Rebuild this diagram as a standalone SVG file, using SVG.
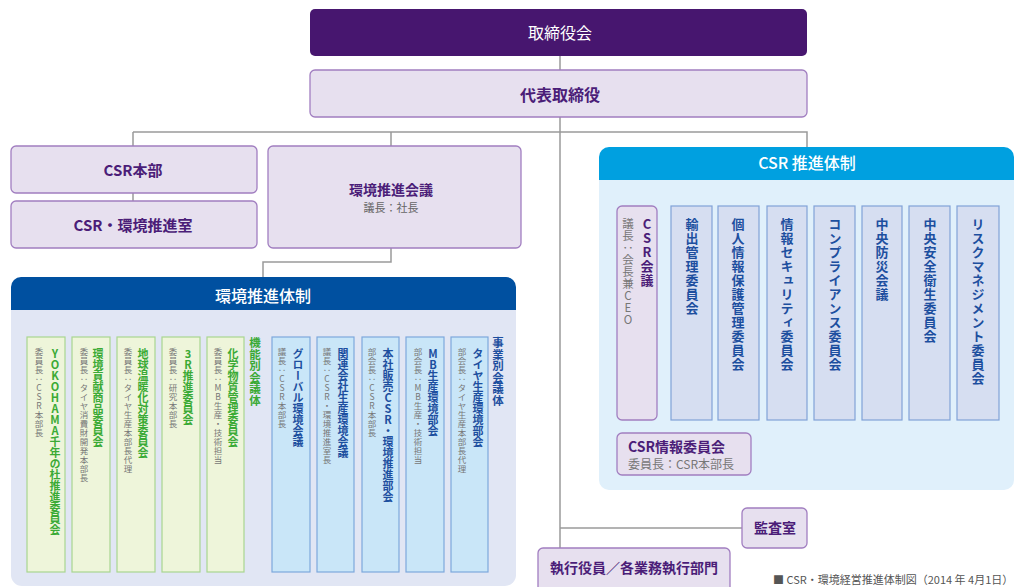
<svg xmlns="http://www.w3.org/2000/svg" width="1015" height="587" viewBox="0 0 1015 587">
<style>
text{font-family:"Noto Sans CJK JP","Noto Sans",sans-serif}
.pbox{fill:#e7e0ef;stroke:#a17ec0;stroke-width:1.3}
.ptxt{fill:#4b1d78;font-weight:bold;text-anchor:middle}
.gray{fill:#666}
.conn{fill:none;stroke:#9a9a9a;stroke-width:1.5}
.v{writing-mode:vertical-rl;text-orientation:upright}
.gbox{fill:#eef5da;stroke:#a9d68f;stroke-width:1.2}
.gt{fill:#3aaa35;font-weight:bold;font-size:11px}
.bbox{fill:#c9e6f8;stroke:#7ea8dc;stroke-width:1.2}
.bt{fill:#1d4f9f;font-weight:bold;font-size:11px}
.st{fill:#777;font-size:8.5px;letter-spacing:0.5px}
.cbox{fill:#d6def1;stroke:#80a2d8;stroke-width:1.2}
.ct{fill:#1d4f9f;font-weight:bold;font-size:13px;letter-spacing:1px}
</style>

<g id="connectors">
  <path class="conn" d="M560 56V70M560 117V548M133 132H807V147M133 132V146M391 132V146M133 193V201M391 248V262H263V277"/>
  <path class="conn" d="M46 327H470M46 327V337M91 327V337M136 327V337M181 327V337M225 327V337M291 327V337M336 327V337M381 327V337M425 327V337M470 327V337"/>
  <path class="conn" d="M637 197H978M637 197V206M692 197V206M738 197V206M787 197V206M835 197V206M882 197V206M930 197V206M978 197V206M637 420V433"/>
  <path class="conn" d="M560 528H742"/>
</g>

<g id="board">
  <rect x="310" y="9" width="497" height="47" rx="5" fill="#47166f"/>
  <text x="560" y="39" font-size="16" fill="#fff" text-anchor="middle">取締役会</text>
</g>
<g id="rep">
  <rect class="pbox" x="310" y="70" width="497" height="47" rx="5"/>
  <text class="ptxt" x="560" y="101" font-size="16">代表取締役</text>
</g>
<g id="csrhq">
  <rect class="pbox" x="11" y="146" width="246" height="47" rx="5"/>
  <text class="ptxt" x="133" y="176" font-size="15">CSR本部</text>
</g>
<g id="csrenv">
  <rect class="pbox" x="11" y="201" width="246" height="47" rx="5"/>
  <text class="ptxt" x="133" y="231" font-size="15">CSR・環境推進室</text>
</g>
<g id="envmeeting">
  <rect class="pbox" x="268" y="146" width="253" height="102" rx="5"/>
  <text class="ptxt" x="391" y="195" font-size="14">環境推進会議</text>
  <text class="gray" x="391" y="212" font-size="11" text-anchor="middle">議長：社長</text>
</g>

<g id="envpanel">
  <path d="M11 310H516V575a11 11 0 0 1-11 11H22a11 11 0 0 1-11-11Z" fill="#e1e6f4"/>
  <path d="M21 277H506a10 10 0 0 1 10 10V310H11V287a10 10 0 0 1 10-10Z" fill="#0050a0"/>
  <text x="263" y="302" font-size="16" font-weight="500" fill="#fff" text-anchor="middle">環境推進体制</text>
  <text class="v gt" x="255" y="337" style="font-size:11.5px">機能別会議体</text>
  <text class="v bt" x="498" y="337" style="font-size:11.5px">事業別会議体</text>
</g>

<g id="g1"><rect class="gbox" x="27" y="337" width="38" height="235"/>
  <text class="v gt" x="55" y="348">YOKOHAMA千年の杜推進委員会</text>
  <text class="v st" x="39" y="348">委員長：CSR本部長</text></g>
<g id="g2"><rect class="gbox" x="72" y="337" width="38" height="235"/>
  <text class="v gt" x="98" y="348">環境貢献商品委員会</text>
  <text class="v st" x="84" y="348">委員長：タイヤ消費財開発本部長</text></g>
<g id="g3"><rect class="gbox" x="117" y="337" width="38" height="235"/>
  <text class="v gt" x="143" y="348">地球温暖化対策委員会</text>
  <text class="v st" x="128" y="348">委員長：タイヤ生産本部長代理</text></g>
<g id="g4"><rect class="gbox" x="162" y="337" width="38" height="235"/>
  <text class="v gt" x="188" y="348">3R推進委員会</text>
  <text class="v st" x="173" y="348">委員長：研究本部長</text></g>
<g id="g5"><rect class="gbox" x="207" y="337" width="37" height="235"/>
  <text class="v gt" x="233" y="348">化学物質管理委員会</text>
  <text class="v st" x="218" y="348">委員長：MB生産・技術担当</text></g>

<g id="b1"><rect class="bbox" x="272" y="337" width="38" height="235"/>
  <text class="v bt" x="298" y="348">グローバル環境会議</text>
  <text class="v st" x="282" y="348">議長：CSR本部長</text></g>
<g id="b2"><rect class="bbox" x="317" y="337" width="37" height="235"/>
  <text class="v bt" x="343" y="348">関連会社生産環境会議</text>
  <text class="v st" x="327" y="348">議長：CSR・環境推進室長</text></g>
<g id="b3"><rect class="bbox" x="362" y="337" width="37" height="235"/>
  <text class="v bt" x="388" y="348">本社販売CSR・環境推進部会</text>
  <text class="v st" x="372" y="348">部会長：CSR本部長</text></g>
<g id="b4"><rect class="bbox" x="406" y="337" width="38" height="235"/>
  <text class="v bt" x="433" y="348">MB生産環境部会</text>
  <text class="v st" x="418" y="348">部会長：MB生産・技術担当</text></g>
<g id="b5"><rect class="bbox" x="451" y="337" width="37" height="235"/>
  <text class="v bt" x="478" y="348">タイヤ生産環境部会</text>
  <text class="v st" x="462" y="348">部会長：タイヤ生産本部長代理</text></g>

<g id="csrpanel">
  <path d="M599 180H1014V480a10 10 0 0 1-10 10H609a10 10 0 0 1-10-10Z" fill="#e0f0fb"/>
  <path d="M609 147H1004a10 10 0 0 1 10 10V180H599V157a10 10 0 0 1 10-10Z" fill="#00a0e0"/>
  <text x="807" y="169" font-size="16" font-weight="500" fill="#fff" text-anchor="middle">CSR 推進体制</text>
</g>
<g id="csrmeeting">
  <rect class="pbox" x="617" y="206" width="40" height="214" rx="5"/>
  <text class="v" x="647" y="218" font-size="13" font-weight="bold" fill="#4b1d78" letter-spacing="1">CSR会議</text>
  <text class="v" x="628" y="218" font-size="11.5" fill="#777" letter-spacing="0.5">議長：会長兼CEO</text>
</g>
<g id="c2"><rect class="cbox" x="671" y="206" width="41" height="214"/><text class="v ct" x="692" y="218">輸出管理委員会</text></g>
<g id="c3"><rect class="cbox" x="718" y="206" width="41" height="214"/><text class="v ct" x="738" y="218">個人情報保護管理委員会</text></g>
<g id="c4"><rect class="cbox" x="767" y="206" width="40" height="214"/><text class="v ct" x="787" y="218">情報セキュリティ委員会</text></g>
<g id="c5"><rect class="cbox" x="814" y="206" width="41" height="214"/><text class="v ct" x="835" y="218">コンプライアンス委員会</text></g>
<g id="c6"><rect class="cbox" x="862" y="206" width="40" height="214"/><text class="v ct" x="882" y="218">中央防災会議</text></g>
<g id="c7"><rect class="cbox" x="909" y="206" width="41" height="214"/><text class="v ct" x="930" y="218">中央安全衛生委員会</text></g>
<g id="c8"><rect class="cbox" x="957" y="206" width="42" height="214"/><text class="v ct" x="978" y="218">リスクマネジメント委員会</text></g>
<g id="csrinfo">
  <rect class="pbox" x="617" y="433" width="134" height="42" rx="5"/>
  <text x="628" y="452" font-size="14" font-weight="bold" fill="#4b1d78">CSR情報委員会</text>
  <text x="628" y="469" font-size="12" fill="#777">委員長：CSR本部長</text>
</g>

<g id="audit">
  <rect class="pbox" x="742" y="508" width="65" height="40" rx="5"/>
  <text class="ptxt" x="775" y="533" font-size="14">監査室</text>
</g>
<g id="exec">
  <rect class="pbox" x="538" y="548" width="192" height="48" rx="5"/>
  <text class="ptxt" x="634" y="573" font-size="14">執行役員／各業務執行部門</text>
</g>
<text x="773" y="584" font-size="11" fill="#555">■ CSR・環境経営推進体制図（2014 年 4月1日）</text>
</svg>
